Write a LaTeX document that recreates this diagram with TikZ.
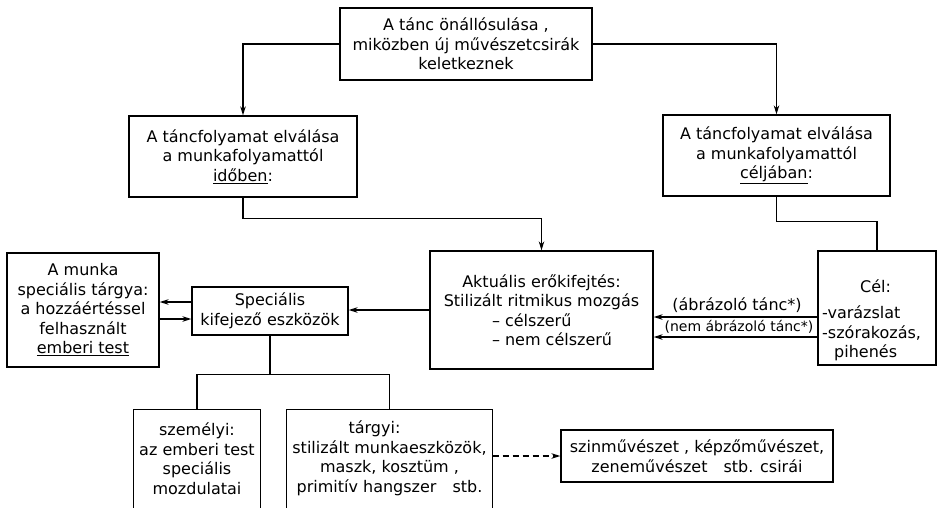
\documentclass[tikz,border=0pt]{standalone}
\usepackage{fontspec}
\setmainfont{DejaVu Sans}
\usetikzlibrary{arrows.meta,calc}
\begin{document}
\begin{tikzpicture}[x=1pt,y=-1pt,
  box/.style={draw, line width=1.3pt, inner sep=0pt, align=center, font=\fontsize{16}{19.5}\selectfont},
  txt/.style={inner sep=0pt, font=\fontsize{16}{19.5}\selectfont},
  conn/.style={line width=1.2pt},
  arr/.style={conn, -{Stealth[length=9pt,width=5.5pt]}}]
\useasboundingbox (0,0) rectangle (937,507);

\node[box, minimum width=252pt, minimum height=72pt] (top) at (466,44)
  {A tánc önállósulása ,\\miközben új művészetcsirák\\keletkeznek};
\node[box, minimum width=228pt, minimum height=81pt] (idoben) at (243,156.5)
  {A táncfolyamat elválása\\a munkafolyamattól\\\underline{időben}:};
\node[box, minimum width=227pt, minimum height=81pt] (celjaban) at (776.5,155.5)
  {A táncfolyamat elválása\\a munkafolyamattól\\\underline{céljában}:};
\node[box, minimum width=223pt, minimum height=118pt] (aktualis) at (541.5,310)
  {Aktuális erőkifejtés:\\Stilizált ritmikus mozgás\\
   \hspace*{37pt}\makebox[136pt][l]{– célszerű}\\
   \hspace*{37pt}\makebox[136pt][l]{– nem célszerű}};
\node[box, minimum width=118pt, minimum height=114pt] (cel) at (877,308) {};
\node[txt, align=left, anchor=west] (celtxt) at (822,320.5)
  {\hspace*{38pt}Cél:\\[7pt]-varázslat\\-szórakozás,\\\hspace*{12pt}pihenés};
\node[box, minimum width=152pt, minimum height=114pt] (munka) at (83,310)
  {A munka\\speciális tárgya:\\a hozzáértéssel\\felhasznált\\\underline{emberi test}};
\node[box, minimum width=156pt, minimum height=48pt] (specialis) at (270,311)
  {Speciális\\kifejező eszközök};
\node[box, draw=none, minimum width=126pt, minimum height=97pt] (szem) at (197,458.5)
  {személyi:\\az emberi test\\speciális\\mozdulatai};
\node[box, draw=none, minimum width=205pt, minimum height=97pt] (targyi) at (389.5,458.5)
  {tárgyi:\hspace*{30pt}\\stilizált munkaeszközök,\\maszk, kosztüm ,\\primitív hangszer\quad stb.};
\node[box, minimum width=272pt, minimum height=52pt] (szinm) at (697,456)
  {szinművészet , képzőművészet,\\zeneművészet\quad stb. csirái};

\draw[line width=1.3pt] (szem.south west) -- (szem.north west) -- (szem.north east) -- (szem.south east);
\draw[line width=1.3pt] (targyi.south west) -- (targyi.north west) -- (targyi.north east) -- (targyi.south east);

% labels on the arrows
\node[txt] (lab1) at (737,305) {(ábrázoló tánc*)};
\node[txt, font=\fontsize{14}{17}\selectfont] (lab2) at (739,327) {(nem ábrázoló tánc*)};

% connectors
\draw[arr] (top.west) -| (idoben.north);
\draw[arr] (top.east) -| (celjaban.north);
\draw[arr] (idoben.south) -- ++(0,21) -| (aktualis.north);
\draw[conn] (celjaban.south) -- ++(0,25) -| (cel.north);

\coordinate (c1) at ($(cel.west)+(0,9)$);
\coordinate (c2) at ($(cel.west)+(0,29)$);
\draw[arr] (c1) -- (aktualis.east |- c1);
\draw[arr] (c2) -- (aktualis.east |- c2);

\draw[arr] (aktualis.west) -- (specialis.east |- aktualis.west);

\coordinate (s1) at ($(specialis.west)+(0,-9)$);
\coordinate (s2) at ($(specialis.west)+(0,8)$);
\draw[arr] (s1) -- (munka.east |- s1);
\coordinate (m2) at (munka.east |- s2);
\draw[arr] (m2) -- (s2);

\draw[conn] (szem.north) -- ++(0,-35) coordinate (bar) -| (targyi.north);
\draw[conn] (specialis.south) -- (specialis.south |- bar);

\draw[arr, dashed, dash pattern=on 6pt off 4pt] (targyi.east |- szinm.west) -- (szinm.west);
\end{tikzpicture}
\end{document}
